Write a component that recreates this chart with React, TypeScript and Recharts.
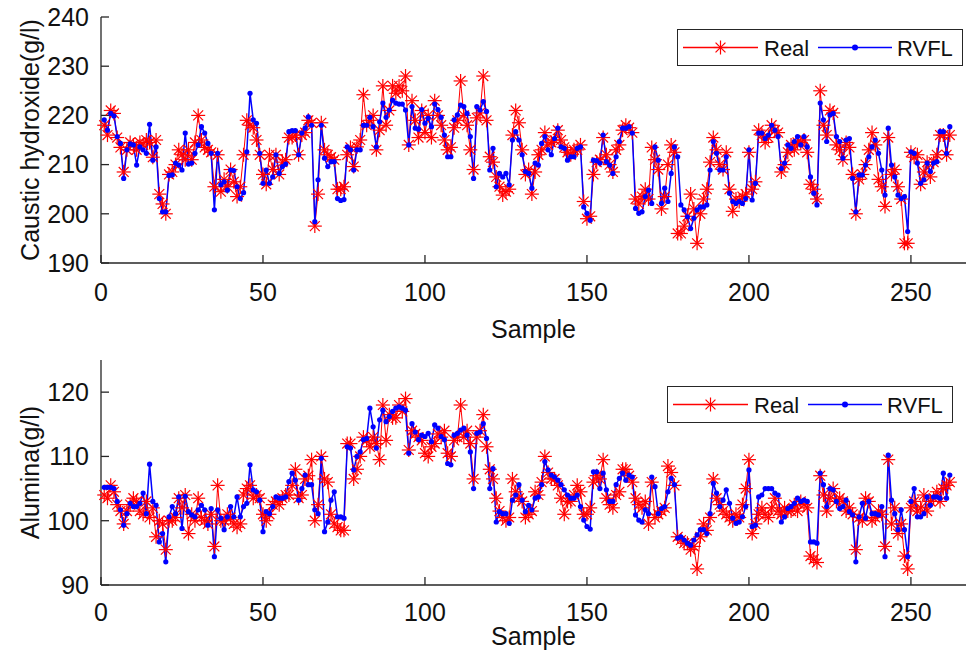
import React from 'react';
import { LineChart, Line, XAxis, YAxis, Legend } from 'recharts';

// Caustic hydroxide (g/l), samples 1..262
const causticReal = [
  218.0, 216.0, 221.0, 220.4, 215.5, 213.5, 208.5, 213.0, 214.5, 214.0,
  213.0, 214.5, 214.0, 215.0, 214.5, 211.5, 215.0, 204.0, 202.0, 200.0,
  208.0, 208.5, 210.0, 213.0, 212.0, 211.0, 213.0, 211.0, 214.5, 220.0,
  215.0, 213.5, 213.0, 212.5, 205.5, 212.0, 204.5, 207.0, 205.5, 209.0,
  206.5, 203.5, 205.5, 212.0, 219.0, 218.0, 217.5, 215.0, 212.0, 208.0,
  206.0, 212.0, 209.0,
  212.0, 208.0, 210.5, 211.0, 215.5, 215.5, 216.0, 212.0, 216.0, 216.5,
  219.0, 218.5, 197.5, 204.0, 218.5, 213.0, 212.0, 211.5, 211.0, 205.0,
  205.0, 205.5, 212.0, 213.5, 209.6, 213.6, 215.0, 224.2, 218.0, 219.0,
  220.0, 213.0, 217.0, 226.0, 218.0, 221.0, 226.0, 224.5, 226.0, 225.0,
  228.0, 214.0, 223.0, 219.0, 215.5, 221.0, 216.5, 220.0, 215.5, 223.0,
  220.0, 218.0, 215.0, 213.0,
  213.5, 217.5, 219.0, 227.0, 220.0, 218.0, 213.0, 209.0, 219.5, 220.5,
  228.0, 219.0, 211.6, 210.5, 207.5, 205.5, 203.8, 204.5, 205.0, 216.0,
  221.0, 218.5, 213.0, 208.0, 209.0, 204.0, 208.5, 212.0, 213.0, 216.5,
  214.0, 214.5, 215.0, 217.0, 215.0, 213.5, 212.5, 212.0, 213.0, 213.0,
  214.0, 202.5, 199.0, 199.5, 208.0, 210.5, 211.0, 215.5, 212.0, 210.0,
  208.5, 213.0, 214.0, 217.0,
  218.0, 217.5, 216.5, 203.0, 202.0, 203.5, 205.0, 203.0, 213.5, 211.0,
  209.0, 201.0, 203.5, 210.0, 214.0, 212.5, 196.0, 196.0, 197.5, 199.5,
  204.0, 201.0, 194.0, 200.0, 203.0, 205.0, 210.5, 215.5, 213.0, 210.0,
  209.0, 212.5, 205.0, 200.5, 203.0, 202.5, 203.5, 204.0, 212.5, 205.0,
  206.5, 217.0, 216.0, 214.5, 215.5, 218.0, 217.0, 216.5, 208.5, 210.0,
  212.5, 214.0, 213.0, 214.5,
  214.5, 215.0, 212.5, 206.0, 205.0, 203.0, 225.0, 218.0, 216.0, 221.0,
  220.5, 214.0, 213.0, 211.0, 214.5, 213.5, 208.0, 200.0, 207.0, 208.0,
  210.0, 213.0, 216.5, 214.0, 207.0, 205.5, 201.5, 215.5, 208.0, 209.0,
  205.5, 203.0, 194.0, 194.0, 212.5, 211.5, 212.0, 206.0, 208.5, 210.5,
  207.5, 210.5, 212.0, 216.0, 216.0, 212.0, 216.0,
];

const causticRvfl = [
  219.1, 217.0, 220.4, 219.9, 215.7, 214.3, 207.2, 213.0, 214.2, 214.0,
  209.9, 213.6, 213.0, 212.3, 218.2, 210.9, 213.6, 203.1, 200.4, 200.4,
  207.8, 207.9, 210.3, 209.9, 208.9, 216.4, 210.1, 210.3, 212.3, 214.0,
  217.7, 216.4, 214.3, 212.3, 200.8, 212.3, 205.9, 206.5, 204.8, 208.9,
  208.8, 205.5, 203.1, 204.3, 212.6, 224.5, 219.1, 218.4, 212.3, 206.2,
  208.9, 206.2, 207.5,
  212.0, 208.2, 209.6, 210.1, 216.7, 216.9, 216.9, 212.0, 216.4, 217.4,
  219.7, 218.0, 198.4, 206.9, 218.0, 211.3, 209.6, 210.6, 210.6, 203.1,
  202.7, 202.9, 213.6, 213.0, 208.9, 213.0, 213.0, 218.0, 218.0, 219.6,
  217.7, 213.6, 218.7, 222.5, 219.6, 221.1, 223.1, 222.5, 222.3, 222.3,
  221.1, 214.0, 221.8, 217.4, 217.2, 221.2, 218.4, 219.4, 217.7, 222.3,
  221.2, 219.6, 216.0, 211.6,
  211.6, 219.1, 220.1, 222.1, 221.8, 220.4, 215.7, 207.2, 221.8, 221.1,
  222.8, 220.8, 208.9, 213.3, 205.5, 208.2, 207.5, 208.2, 205.9, 215.0,
  216.7, 215.0, 212.0, 208.6, 208.2, 205.2, 210.3, 209.9, 214.3, 215.7,
  213.0, 212.0, 215.3, 217.4, 213.6, 213.3, 210.9, 211.6, 211.6, 213.3,
  213.6, 201.4, 200.1, 198.7, 210.9, 210.8, 210.3, 216.0, 210.6, 209.9,
  208.2, 211.6, 214.7, 217.4,
  217.4, 217.7, 216.4, 201.1, 200.1, 200.4, 203.5, 204.8, 202.1, 213.6,
  210.9, 202.1, 205.2, 202.5, 208.2, 213.6, 211.6, 201.8, 200.8, 199.4,
  197.0, 199.1, 200.8, 201.4, 201.4, 201.8, 208.9, 214.7, 212.3, 208.9,
  208.9, 211.6, 204.2, 202.5, 202.1, 202.5, 202.1, 203.1, 213.0, 202.8,
  206.2, 216.4, 216.4, 215.3, 216.0, 218.0, 217.0, 215.7, 209.2, 210.3,
  214.0, 213.3, 214.7, 215.7,
  214.0, 215.7, 213.6, 207.5, 204.2, 201.8, 222.5, 219.1, 214.7, 220.1,
  220.4, 215.7, 214.7, 211.3, 215.0, 215.3, 207.2, 200.4, 207.9, 207.9,
  209.9, 211.6, 213.6, 215.0, 212.3, 208.9, 203.8, 217.4, 209.9, 207.5,
  203.8, 203.1, 203.5, 196.4, 212.6, 212.3, 210.3, 206.2, 206.9, 210.3,
  208.6, 210.3, 210.6, 216.7, 216.7, 212.3, 217.7,
];

// Alumina (g/l), samples 1..262
const aluminaReal = [
  104.0, 103.5, 105.5, 104.5, 102.5, 101.5, 99.5, 101.5, 102.5, 103.5,
  103.0, 101.5, 101.0, 103.0, 100.5, 102.0, 97.5, 100.0, 99.5, 95.5,
  100.0, 100.0, 100.5, 103.5, 102.0, 104.0, 98.0, 101.0, 100.0, 103.5,
  100.5, 100.0, 99.5, 101.0, 96.0, 105.5, 100.0, 100.0, 101.0, 100.5,
  99.5, 99.0, 99.5, 104.0, 105.0, 105.5, 103.5, 104.0, 103.5, 101.0,
  100.0, 101.0, 102.5,
  103.0, 102.5, 103.5, 104.0, 104.0, 105.5, 108.0, 103.5, 104.0, 106.5,
  107.0, 109.5, 100.0, 102.5, 110.0, 106.5, 106.0, 101.0, 99.5, 99.0,
  98.5, 98.5, 112.0, 112.0, 106.5, 108.0, 110.0, 113.0, 112.5, 111.5,
  113.0, 112.0, 109.5, 118.0, 112.5, 116.5, 116.0, 116.0, 118.0, 117.0,
  119.0, 111.0, 114.0, 113.5, 113.0, 112.5, 110.5, 110.0, 111.5, 112.0,
  113.5, 113.0, 114.0, 110.5,
  110.0, 112.5, 113.0, 118.0, 113.0, 114.0, 112.0, 106.5, 113.0, 114.0,
  116.5, 111.5, 108.0, 106.5, 103.5, 101.5, 100.5, 100.0, 100.5, 106.5,
  104.5, 103.5, 103.0, 100.5, 101.0, 101.5, 104.5, 104.0, 106.0, 110.0,
  107.5, 106.5, 106.5, 105.5, 103.5, 101.0, 103.0, 103.0, 104.0, 105.5,
  104.5, 101.0, 101.0, 102.0, 106.0, 107.0, 106.5, 109.5, 103.5, 102.5,
  102.0, 104.0, 104.5, 108.0,
  108.0, 107.0, 106.0, 103.5, 102.5, 102.0, 103.0, 99.5, 106.0, 100.5,
  101.0, 101.5, 102.0, 108.5, 107.5, 105.5, 97.5, 97.0, 96.5, 96.5,
  95.5, 96.0, 92.5, 97.5, 99.5, 98.5, 100.5, 106.5, 103.5, 102.5,
  101.5, 101.0, 100.5, 100.0, 101.0, 100.5, 102.5, 105.0, 109.5, 98.0,
  99.5, 101.0, 102.0, 101.0, 100.5, 102.0, 103.5, 101.5, 101.0, 102.0,
  101.5, 101.5, 102.5, 101.5,
  103.0, 102.5, 102.0, 94.5, 94.0, 93.5, 107.0, 104.0, 101.5, 103.5,
  105.0, 103.0, 103.5, 103.0, 101.5, 102.0, 101.0, 95.5, 100.5, 100.0,
  103.5, 103.0, 100.0, 100.5, 101.5, 101.0, 96.0, 109.5, 99.5, 102.0,
  98.0, 99.5, 94.5, 92.5, 102.0, 103.0, 101.5, 102.0, 104.0, 101.5,
  103.0, 103.5, 104.5, 103.0, 105.0, 105.5, 106.0,
];

const aluminaRvfl = [
  105.2, 105.2, 105.2, 105.0, 103.0, 101.7, 99.3, 101.1, 102.7, 102.2,
  102.2, 102.7, 104.3, 101.1, 108.8, 103.0, 102.4, 96.7, 98.0, 93.6,
  100.6, 102.2, 101.1, 103.7, 98.8, 103.8, 101.4, 100.9, 100.6, 101.7,
  102.4, 101.7, 99.3, 101.9, 94.4, 101.7, 100.4, 98.6, 100.6, 102.2,
  100.6, 103.7, 100.6, 102.2, 102.7, 108.7, 104.8, 104.5, 103.2, 98.3,
  101.4, 101.1, 102.2,
  103.7, 103.5, 103.5, 103.7, 106.1, 107.4, 106.3, 103.2, 105.0, 107.1,
  105.6, 105.6, 101.7, 101.1, 109.7, 98.3, 99.8, 103.2, 104.5, 100.6,
  100.6, 100.4, 111.5, 111.3, 107.9, 110.0, 110.7, 112.6, 112.8, 117.5,
  114.6, 111.3, 115.7, 117.2, 115.4, 116.2, 117.0, 117.5, 117.7, 117.5,
  117.2, 110.5, 115.1, 113.8, 112.6, 113.3, 113.1, 113.6, 112.3, 114.9,
  114.4, 113.1, 112.6, 108.9,
  108.7, 113.3, 113.6, 114.1, 114.4, 113.3, 110.7, 105.0, 113.6, 113.8,
  115.1, 112.8, 105.0, 108.1, 99.8, 101.4, 101.1, 101.1, 99.6, 103.2,
  104.0, 105.6, 103.2, 101.4, 102.4, 101.7, 103.5, 103.7, 105.6, 109.2,
  107.9, 107.1, 106.8, 106.3, 105.6, 104.8, 104.0, 103.5, 103.5, 104.0,
  102.2, 100.1, 99.1, 98.7, 107.6, 107.6, 105.0, 107.4, 104.8, 103.0,
  103.0, 105.6, 106.6, 107.4,
  106.3, 107.1, 106.8, 100.9, 100.1, 99.8, 101.7, 101.1, 106.8, 105.3,
  101.1, 101.9, 102.2, 104.5, 106.6, 105.6, 97.3, 97.5, 97.0, 96.5,
  96.2, 97.0, 97.8, 98.6, 98.6, 98.0, 101.1, 105.8, 104.3, 102.2,
  103.2, 104.8, 102.7, 100.4, 99.6, 99.8, 100.6, 102.2, 107.9, 99.1,
  99.3, 103.7, 104.0, 105.0, 105.0, 105.0, 104.3, 104.0, 99.8, 100.6,
  101.9, 102.2, 102.7, 103.5,
  103.0, 103.2, 103.0, 96.7, 96.7, 96.5, 107.4, 105.6, 102.2, 105.0,
  104.8, 103.0, 101.9, 102.2, 103.2, 101.4, 100.9, 93.6, 100.6, 102.7,
  100.4, 103.0, 101.1, 101.1, 100.9, 102.2, 94.4, 110.2, 103.2, 101.1,
  98.6, 101.7, 98.6, 94.4, 103.0, 105.0, 100.6, 100.6, 101.1, 103.7,
  102.4, 103.7, 103.7, 103.5, 107.4, 103.5, 107.1,
];

const sampleTicks = [0, 50, 100, 150, 200, 250];
const causticTicks = [190, 200, 210, 220, 230, 240];
const aluminaTicks = [90, 100, 110, 120];

const FONT = '"Liberation Sans", Arial, Helvetica, sans-serif';
const AXIS = '#262626';
const RED = '#ff0000';
const BLUE = '#0000ff';

const toRows = (real: number[], rvfl: number[]) =>
  real.map((v, i) => ({ sample: i + 1, real: v, rvfl: rvfl[i] }));

const causticData = toRows(causticReal, causticRvfl);
const aluminaData = toRows(aluminaReal, aluminaRvfl);

const Asterisk = ({ cx, cy, r = 7 }: { cx?: number; cy?: number; r?: number }) => {
  if (cx == null || cy == null) return null;
  const d = r * 0.7071;
  return (
    <g stroke={RED} strokeWidth={1.2}>
      <line x1={cx - r} y1={cy} x2={cx + r} y2={cy} />
      <line x1={cx} y1={cy - r} x2={cx} y2={cy + r} />
      <line x1={cx - d} y1={cy - d} x2={cx + d} y2={cy + d} />
      <line x1={cx - d} y1={cy + d} x2={cx + d} y2={cy - d} />
    </g>
  );
};

const LegendBox = () => (
  <svg width={286} height={37} style={{ display: 'block' }}>
    <rect x={0.5} y={0.5} width={285} height={36} fill="#fff" stroke={AXIS} strokeWidth={1} />
    <line x1={6} x2={81} y1={18.5} y2={18.5} stroke={RED} strokeWidth={1.3} />
    <Asterisk cx={43.5} cy={18.5} />
    <text x={87} y={26.5} fontSize={22} fontFamily={FONT} fill="#111">Real</text>
    <line x1={141} x2={215} y1={18.5} y2={18.5} stroke={BLUE} strokeWidth={1.5} />
    <circle cx={178} cy={18.5} r={3} fill={BLUE} />
    <text x={220} y={26.5} fontSize={22} fontFamily={FONT} fill="#111">RVFL</text>
  </svg>
);

interface PanelProps {
  data: Array<{ sample: number; real: number; rvfl: number }>;
  yDomain: [number, number];
  yTicks: number[];
  yLabel: string;
  height: number;
  marginTop: number;
  marginBottom: number;
  xAxisHeight: number;
  xTickMargin: number;
  legendLeft: number;
  legendTop: number;
}

const Panel: React.FC<PanelProps> = ({
  data, yDomain, yTicks, yLabel, height, marginTop, marginBottom, xAxisHeight, xTickMargin, legendLeft, legendTop,
}) => {
  const tick = { fontSize: 25, fill: '#111', fontFamily: FONT };
  const line = { stroke: AXIS, strokeWidth: 1.3 };
  return (
    <LineChart
      width={979}
      height={height}
      data={data}
      margin={{ top: marginTop, right: 13, bottom: marginBottom, left: 25 }}
    >
      <XAxis
        dataKey="sample"
        type="number"
        domain={[0, 267]}
        ticks={sampleTicks}
        interval={0}
        height={xAxisHeight}
        tickSize={-8}
        tickMargin={xTickMargin}
        axisLine={line}
        tickLine={line}
        tick={tick}
        label={{ value: 'Sample', position: 'insideBottom', offset: 5, fontSize: 25, fill: '#111', fontFamily: FONT }}
      />
      <XAxis
        xAxisId="top"
        orientation="top"
        dataKey="sample"
        type="number"
        domain={[0, 267]}
        ticks={sampleTicks}
        interval={0}
        height={0}
        tickSize={-8}
        axisLine={line}
        tickLine={line}
        tickFormatter={() => ''}
      />
      <YAxis
        type="number"
        domain={yDomain}
        ticks={yTicks}
        interval={0}
        width={76}
        tickSize={-8}
        tickMargin={20}
        axisLine={line}
        tickLine={line}
        tick={tick}
        label={{
          value: yLabel,
          angle: -90,
          position: 'insideLeft',
          offset: 5,
          fontSize: 25,
          fill: '#111',
          fontFamily: FONT,
          style: { textAnchor: 'middle' },
        }}
      />
      <YAxis
        yAxisId="right"
        orientation="right"
        type="number"
        domain={yDomain}
        ticks={yTicks}
        interval={0}
        width={0}
        tickSize={-8}
        axisLine={line}
        tickLine={line}
        tickFormatter={() => ''}
      />
      <Legend
        layout="vertical"
        align="center"
        verticalAlign="middle"
        content={() => <LegendBox />}
        wrapperStyle={{ left: legendLeft, top: legendTop, width: 286, height: 37 }}
      />
      <Line
        dataKey="real"
        type="linear"
        stroke={RED}
        strokeWidth={1}
        isAnimationActive={false}
        legendType="none"
        dot={(p: any) => <Asterisk key={`r-${p.index}`} cx={p.cx} cy={p.cy} />}
        activeDot={false}
      />
      <Line
        dataKey="rvfl"
        type="linear"
        stroke={BLUE}
        strokeWidth={1.5}
        isAnimationActive={false}
        legendType="none"
        dot={(p: any) => <circle key={`b-${p.index}`} cx={p.cx} cy={p.cy} r={2.6} fill={BLUE} stroke="none" />}
        activeDot={false}
      />
    </LineChart>
  );
};

const App: React.FC = () => {
  return (
    <div style={{ position: 'absolute', left: 0, top: 0, width: 979, height: 655, background: '#fff' }}>
      <div style={{ position: 'absolute', left: 0, top: 0 }}>
        <Panel
          data={causticData}
          yDomain={[190, 240]}
          yTicks={causticTicks}
          yLabel="Caustic hydroxide(g/l)"
          height={345}
          marginTop={17}
          marginBottom={2}
          xAxisHeight={80}
          xTickMargin={28}
          legendLeft={677}
          legendTop={29}
        />
      </div>
      <div style={{ position: 'absolute', left: 0, top: 345 }}>
        <Panel
          data={aluminaData}
          yDomain={[90, 125]}
          yTicks={aluminaTicks}
          yLabel="Alumina(g/l)"
          height={310}
          marginTop={15}
          marginBottom={5}
          xAxisHeight={65}
          xTickMargin={26}
          legendLeft={667}
          legendTop={41}
        />
      </div>
    </div>
  );
};

export default App;
